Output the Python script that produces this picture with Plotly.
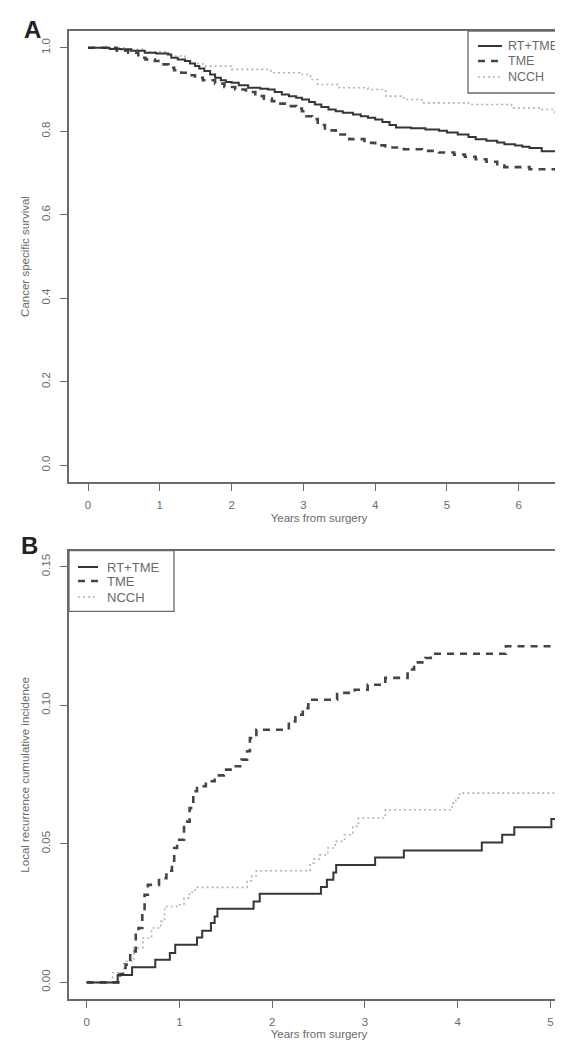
import plotly.graph_objects as go

# ---------------- Panel A: cancer specific survival ----------------
A_RT_T = [0, 0.30, 0.46, 0.60, 0.79, 0.95, 1.12, 1.16, 1.25, 1.35, 1.42, 1.49, 1.55, 1.62, 1.70,
          1.77, 1.85, 1.92, 2.00, 2.10, 2.23, 2.40, 2.51, 2.60, 2.70, 2.80, 2.90, 2.98, 3.08, 3.16,
          3.25, 3.35, 3.45, 3.55, 3.69, 3.80, 3.90, 4.00, 4.10, 4.20, 4.29, 4.50, 4.70, 4.89, 5.00,
          5.15, 5.30, 5.40, 5.55, 5.70, 5.80, 5.95, 6.05, 6.15, 6.32, 6.80]
A_RT_S = [1.0, 0.997, 0.996, 0.993, 0.988, 0.986, 0.984, 0.976, 0.972, 0.968, 0.962, 0.956, 0.950,
          0.944, 0.936, 0.928, 0.922, 0.918, 0.916, 0.910, 0.904, 0.902, 0.900, 0.894, 0.888, 0.884,
          0.880, 0.876, 0.870, 0.864, 0.858, 0.852, 0.848, 0.844, 0.840, 0.836, 0.832, 0.828, 0.822,
          0.815, 0.809, 0.807, 0.804, 0.801, 0.797, 0.792, 0.786, 0.781, 0.777, 0.773, 0.769, 0.766,
          0.763, 0.760, 0.752, 0.752]

A_TME_T = [0, 0.40, 0.56, 0.70, 0.80, 0.93, 1.02, 1.12, 1.20, 1.30, 1.40, 1.49, 1.60, 1.77, 1.90,
           2.05, 2.20, 2.33, 2.45, 2.56, 2.68, 2.79, 2.90, 2.98, 3.04, 3.12, 3.20, 3.30, 3.45, 3.64,
           3.85, 4.00, 4.14, 4.40, 4.65, 4.89, 5.10, 5.25, 5.40, 5.55, 5.70, 5.80, 6.15, 6.80]
A_TME_S = [1.0, 0.993, 0.988, 0.976, 0.972, 0.968, 0.960, 0.952, 0.946, 0.940, 0.934, 0.928, 0.922,
           0.914, 0.906, 0.900, 0.894, 0.884, 0.878, 0.872, 0.866, 0.860, 0.854, 0.848, 0.836, 0.829,
           0.815, 0.802, 0.792, 0.781, 0.772, 0.766, 0.761, 0.757, 0.753, 0.749, 0.744, 0.739, 0.733,
           0.727, 0.721, 0.714, 0.709, 0.709]

A_NCCH_T = [0, 0.50, 0.80, 1.10, 1.35, 1.45, 1.60, 2.00, 2.55, 2.95, 3.10, 3.20, 3.50, 3.90, 4.10,
            4.15, 4.40, 4.65, 5.30, 5.90, 6.30, 6.50, 6.60, 6.80]
A_NCCH_S = [1.0, 0.996, 0.990, 0.980, 0.968, 0.962, 0.956, 0.948, 0.940, 0.936, 0.924, 0.912, 0.904,
            0.900, 0.896, 0.884, 0.876, 0.868, 0.864, 0.856, 0.852, 0.845, 0.840, 0.840]

A_XTICKS = [0, 1, 2, 3, 4, 5, 6]
A_YTICKS = [0.0, 0.2, 0.4, 0.6, 0.8, 1.0]

# ---------------- Panel B: local recurrence cumulative incidence ----------------
B_RT_T = [0, 0.335, 0.49, 0.74, 0.897, 0.955, 1.19, 1.246, 1.34, 1.38, 1.41, 1.80, 1.866, 2.526,
          2.59, 2.66, 2.69, 3.11, 3.42, 4.26, 4.48, 4.61, 5.01, 5.40]
B_RT_V = [0, 0.0027, 0.0055, 0.0082, 0.0106, 0.0136, 0.0162, 0.0186, 0.0214, 0.0238, 0.0266, 0.0292,
          0.0320, 0.0344, 0.0370, 0.0397, 0.0424, 0.0451, 0.0476, 0.0505, 0.0533, 0.0560, 0.0590, 0.0590]

B_TME_T = [0, 0.36, 0.42, 0.47, 0.53, 0.56, 0.60, 0.625, 0.66, 0.78, 0.86, 0.92, 0.944, 0.975, 1.05,
           1.11, 1.15, 1.19, 1.285, 1.38, 1.48, 1.575, 1.67, 1.73, 1.76, 1.83, 2.18, 2.25, 2.33, 2.39,
           2.70, 2.89, 3.03, 3.22, 3.46, 3.53, 3.65, 3.71, 4.52, 5.40]
B_TME_V = [0, 0.0030, 0.0064, 0.0112, 0.0172, 0.0196, 0.0256, 0.0316, 0.0352, 0.0376, 0.0403, 0.0424,
           0.0485, 0.0515, 0.0580, 0.0629, 0.0690, 0.0708, 0.0726, 0.0747, 0.0768, 0.0780, 0.0804,
           0.0834, 0.0882, 0.0912, 0.0942, 0.0966, 0.0990, 0.1020, 0.1045, 0.1056, 0.1074, 0.1099,
           0.1129, 0.1155, 0.1171, 0.1186, 0.1213, 0.1213]

B_NCCH_T = [0, 0.28, 0.40, 0.51, 0.606, 0.70, 0.80, 0.84, 0.975, 1.05, 1.11, 1.17, 1.73, 1.78, 1.83,
            2.41, 2.45, 2.51, 2.60, 2.68, 2.78, 2.87, 2.93, 3.22, 3.94, 3.98, 4.02, 5.40]
B_NCCH_V = [0, 0.0035, 0.0076, 0.0124, 0.0160, 0.0196, 0.0220, 0.0274, 0.0280, 0.0304, 0.0326,
            0.0343, 0.0367, 0.0385, 0.0403, 0.0430, 0.0445, 0.0460, 0.0485, 0.0509, 0.0533, 0.0563,
            0.0593, 0.0623, 0.0647, 0.0665, 0.0683, 0.0683]

B_XTICKS = [0, 1, 2, 3, 4, 5]
B_YTICKS = [0.00, 0.05, 0.10, 0.15]

GROUPS = ["RT+TME", "TME", "NCCH"]

# ---------------- styling ----------------
FONT = "Liberation Sans, Arial, sans-serif"
TXT = "#6a6a6a"
FRAME = "#6a6a6a"
STY = {
    "RT+TME": dict(color="#363636", width=2.0, dash="solid"),
    "TME": dict(color="#454545", width=2.6, dash="7px,6px"),
    "NCCH": dict(color="#b2b2b2", width=1.6, dash="2px,3px"),
}

fig = go.Figure()

panelA = {"RT+TME": (A_RT_T, A_RT_S), "TME": (A_TME_T, A_TME_S), "NCCH": (A_NCCH_T, A_NCCH_S)}
panelB = {"RT+TME": (B_RT_T, B_RT_V), "TME": (B_TME_T, B_TME_V), "NCCH": (B_NCCH_T, B_NCCH_V)}

for name in ["NCCH", "TME", "RT+TME"]:
    t, s = panelA[name]
    fig.add_trace(go.Scatter(x=t, y=s, mode="lines", line=dict(shape="hv", **STY[name]),
                             name=name, showlegend=False, xaxis="x", yaxis="y"))
for name in ["NCCH", "TME", "RT+TME"]:
    t, s = panelB[name]
    fig.add_trace(go.Scatter(x=t, y=s, mode="lines", line=dict(shape="hv", **STY[name]),
                             name=name, showlegend=False, xaxis="x2", yaxis="y2"))

axis_common = dict(showline=True, mirror=True, linecolor=FRAME, linewidth=1.5,
                   ticks="outside", ticklen=7, tickcolor=FRAME, tickwidth=1.2,
                   showgrid=False, zeroline=False, automargin=False,
                   tickfont=dict(family=FONT, size=11.5, color=TXT))

W, H = 563, 1040
ML, MR, MT, MB = 61, 2, 23, 49
PH = H - MT - MB
A_bot = (H - MB - 474) / PH
B_top = (H - MB - 542.7) / PH

fig.update_layout(
    width=W, height=H,
    margin=dict(l=ML, r=MR, t=MT, b=MB, autoexpand=False),
    paper_bgcolor="white", plot_bgcolor="white",
    font=dict(family=FONT, color=TXT),
    xaxis=dict(domain=[0, 1], range=[-0.265, 6.70], tickvals=A_XTICKS, anchor="y",
               ticklabelstandoff=4,
               title=dict(text="Years from surgery", standoff=4,
                          font=dict(family=FONT, size=11.5, color=TXT)),
               **axis_common),
    yaxis=dict(domain=[A_bot, 1], range=[-0.04, 1.04], tickvals=A_YTICKS, tickformat=".1f",
               tickangle=-90, anchor="x", ticklabelstandoff=6,
               title=dict(text="Cancer specific survival", standoff=8,
                          font=dict(family=FONT, size=11.5, color=TXT)),
               **axis_common),
    xaxis2=dict(domain=[0, 1], range=[-0.19, 5.20], tickvals=B_XTICKS, anchor="y2",
                ticklabelstandoff=4,
                title=dict(text="Years from surgery", standoff=3,
                           font=dict(family=FONT, size=11.5, color=TXT)),
                **axis_common),
    yaxis2=dict(domain=[0, B_top], range=[-0.006, 0.1558], tickvals=B_YTICKS, tickformat=".2f",
                tickangle=-90, anchor="x2", ticklabelstandoff=6,
                title=dict(text="Local recurrence cumulative incidence", standoff=8,
                           font=dict(family=FONT, size=11.5, color=TXT)),
                **axis_common),
)

# legends drawn inside each panel
def add_legend(xref, yref, box, line_x, text_x, ys, size):
    fig.add_shape(type="rect", xref=xref, yref=yref, x0=box[0], x1=box[1], y0=box[2], y1=box[3],
                  line=dict(color=FRAME, width=1.3), fillcolor="white", layer="above")
    for name, yy in zip(GROUPS, ys):
        st = STY[name]
        fig.add_shape(type="line", xref=xref, yref=yref, x0=line_x[0], x1=line_x[1], y0=yy, y1=yy,
                      line=dict(color=st["color"], width=st["width"], dash=st["dash"]), layer="above")
        fig.add_annotation(xref=xref, yref=yref, x=text_x, y=yy, text=name, showarrow=False,
                           xanchor="left", yanchor="middle", borderpad=0,
                           font=dict(family=FONT, size=size, color=TXT))

add_legend("x domain", "y domain", (0.798, 1.0, 0.8625, 1.0), (0.818, 0.866), 0.876,
           [0.9667, 0.9335, 0.898], 12.5)
add_legend("x2 domain", "y2 domain", (0.0, 0.21, 0.8648, 1.0), (0.018, 0.058), 0.074,
           [0.9636, 0.9324, 0.8967], 13)

# panel letters
fig.add_annotation(xref="paper", yref="paper", x=(14 - ML) / (W - ML - MR), y=(H - MB - 21) / PH,
                   text="<b>A</b>", showarrow=False, xanchor="left", yanchor="middle",
                   font=dict(family=FONT, size=24, color="#222222"))
fig.add_annotation(xref="paper", yref="paper", x=(11 - ML) / (W - ML - MR), y=(H - MB - 537) / PH,
                   text="<b>B</b>", showarrow=False, xanchor="left", yanchor="middle",
                   font=dict(family=FONT, size=24, color="#222222"))

fig.write_html("out.html")
